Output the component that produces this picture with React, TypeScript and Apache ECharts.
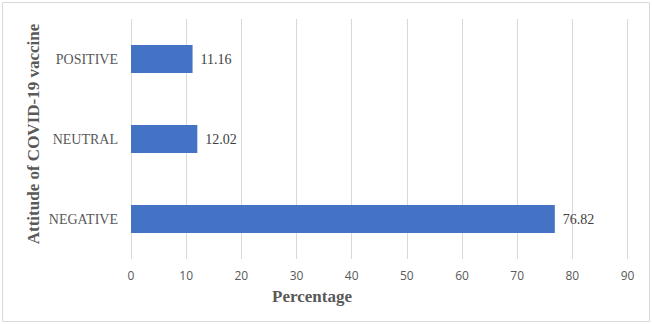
import React, { useEffect, useRef } from "react";
import * as echarts from "echarts";

const categories = ["NEGATIVE", "NEUTRAL", "POSITIVE"];
const values = [76.82, 12.02, 11.16];
const xTicks = [0, 10, 20, 30, 40, 50, 60, 70, 80, 90];

export default function App() {
  const ref = useRef<HTMLDivElement>(null);
  useEffect(() => {
    document.body.style.margin = "0";
    const chart = echarts.init(ref.current!, null, { renderer: "svg" });
    chart.setOption({
      animation: false,
      backgroundColor: "#ffffff",
      grid: { left: 131, right: 24.5, top: 19, bottom: 65 },
      xAxis: {
        type: "value",
        min: xTicks[0],
        max: xTicks[xTicks.length - 1],
        interval: 10,
        axisLine: { show: false },
        axisTick: { show: false },
        splitLine: { show: true, lineStyle: { color: "#d9d9d9", width: 1 } },
        axisLabel: {
          color: "#595959",
          fontFamily: "Open Sans",
          fontSize: 12,
          margin: 10,
        },
      },
      yAxis: {
        type: "category",
        data: categories,
        axisLine: { show: false },
        axisTick: { show: false },
        axisLabel: {
          color: "#595959",
          fontFamily: "Liberation Serif",
          fontSize: 14,
          margin: 13,
        },
      },
      series: [
        {
          type: "bar",
          data: values,
          barWidth: 28,
          itemStyle: { color: "#4472c4" },
          label: {
            show: true,
            position: "right",
            distance: 8,
            color: "#404040",
            fontFamily: "Liberation Serif",
            fontSize: 14,
            formatter: (p: any) => p.value.toFixed(2),
          },
        },
      ],
      graphic: [
        {
          type: "rect",
          shape: { x: 2.5, y: 2.5, width: 647, height: 319 },
          style: { fill: "none", stroke: "#d9d9d9", lineWidth: 1 },
          silent: true,
        },
        {
          type: "text",
          x: 33,
          y: 134,
          rotation: Math.PI / 2,
          style: {
            text: "Attitude of COVID-19 vaccine",
            fill: "#595959",
            font: "bold 17px 'Liberation Serif'",
            align: "center",
            verticalAlign: "middle",
          },
        },
        {
          type: "text",
          x: 312,
          y: 296,
          style: {
            text: "Percentage",
            fill: "#595959",
            font: "bold 17px 'Liberation Serif'",
            align: "center",
            verticalAlign: "middle",
          },
        },
      ],
    });
    return () => chart.dispose();
  }, []);
  return <div ref={ref} style={{ width: 652, height: 324 }} />;
}
